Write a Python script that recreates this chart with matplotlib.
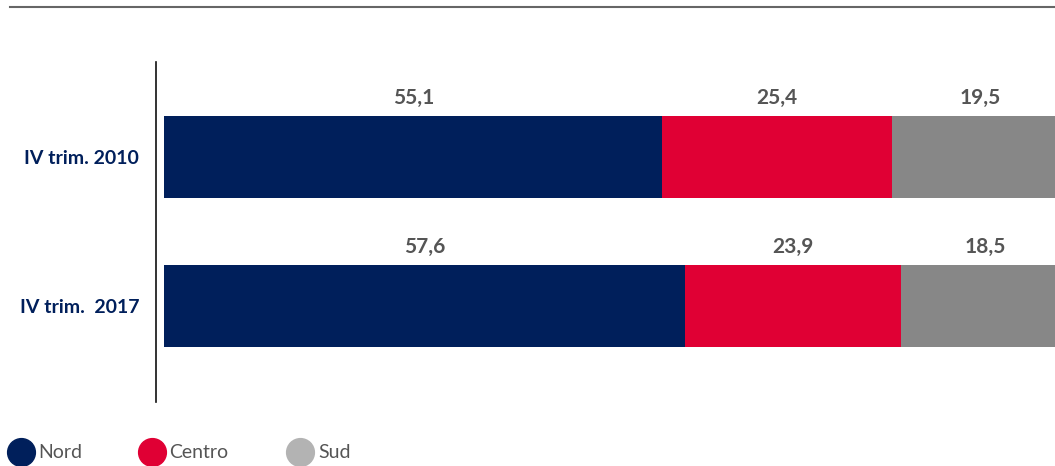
import matplotlib.pyplot as plt
from matplotlib.lines import Line2D

plt.rcParams['font.family'] = ['Lato', 'DejaVu Sans']

periods = ['IV trim. 2010', 'IV trim.  2017']
nord = [55.1, 57.6]
centro = [25.4, 23.9]
sud = [19.5, 18.5]
labels = ['Nord', 'Centro', 'Sud']

c_nord = '#001f5b'
c_centro = '#e00034'
c_sud = '#878787'
c_sud_leg = '#b3b3b3'
txt = '#555555'

fig = plt.figure(figsize=(10.55, 4.66), dpi=100)
ax = fig.add_axes([164 / 1055, 1 - 402 / 466, 891 / 1055, 340 / 466])

y = [0, 1]
h = 0.55
left = [0, 0]
for vals, col in [(nord, c_nord), (centro, c_centro), (sud, c_sud)]:
    ax.barh(y, vals, left=left, height=h, color=col, clip_on=False)
    for i, v in enumerate(vals):
        ax.text(left[i] + v / 2, y[i] - h / 2 - 0.12, f'{v:.1f}'.replace('.', ','),
                ha='center', va='center', fontsize=15, fontweight='bold', color=txt)
    left = [a + b for a, b in zip(left, vals)]

# spine first: set_position resets the ticks
for s in ['top', 'right', 'bottom']:
    ax.spines[s].set_visible(False)
ax.spines['left'].set_position(('outward', 6))
ax.spines['left'].set_linewidth(1.2)
ax.spines['left'].set_color('#111111')

ax.set_xlim(0, 98.5)
ax.set_ylim(1.644, -0.638)
ax.set_xticks([])
ax.set_yticks(y)
ax.set_yticklabels(periods)
ax.tick_params(axis='y', length=0, pad=12, labelsize=14, labelcolor=c_nord)
for t in ax.get_yticklabels():
    t.set_fontweight('bold')

# top rule
fig.add_artist(Line2D([10 / 1055, 1], [1 - 7 / 466] * 2, transform=fig.transFigure,
                      color='#666666', lw=1.5))

# legend
for lab, col, xc, xt in [('Nord', c_nord, 21, 38), ('Centro', c_centro, 152, 169),
                         ('Sud', c_sud_leg, 300, 318)]:
    fig.add_artist(Line2D([xc / 1055], [1 - 452 / 466], transform=fig.transFigure,
                          marker='o', markersize=20, color=col, linestyle='none'))
    fig.text(xt / 1055, 1 - 452 / 466, lab, fontsize=14, color=txt, va='center', ha='left')

fig.savefig('out.png', dpi=100)
